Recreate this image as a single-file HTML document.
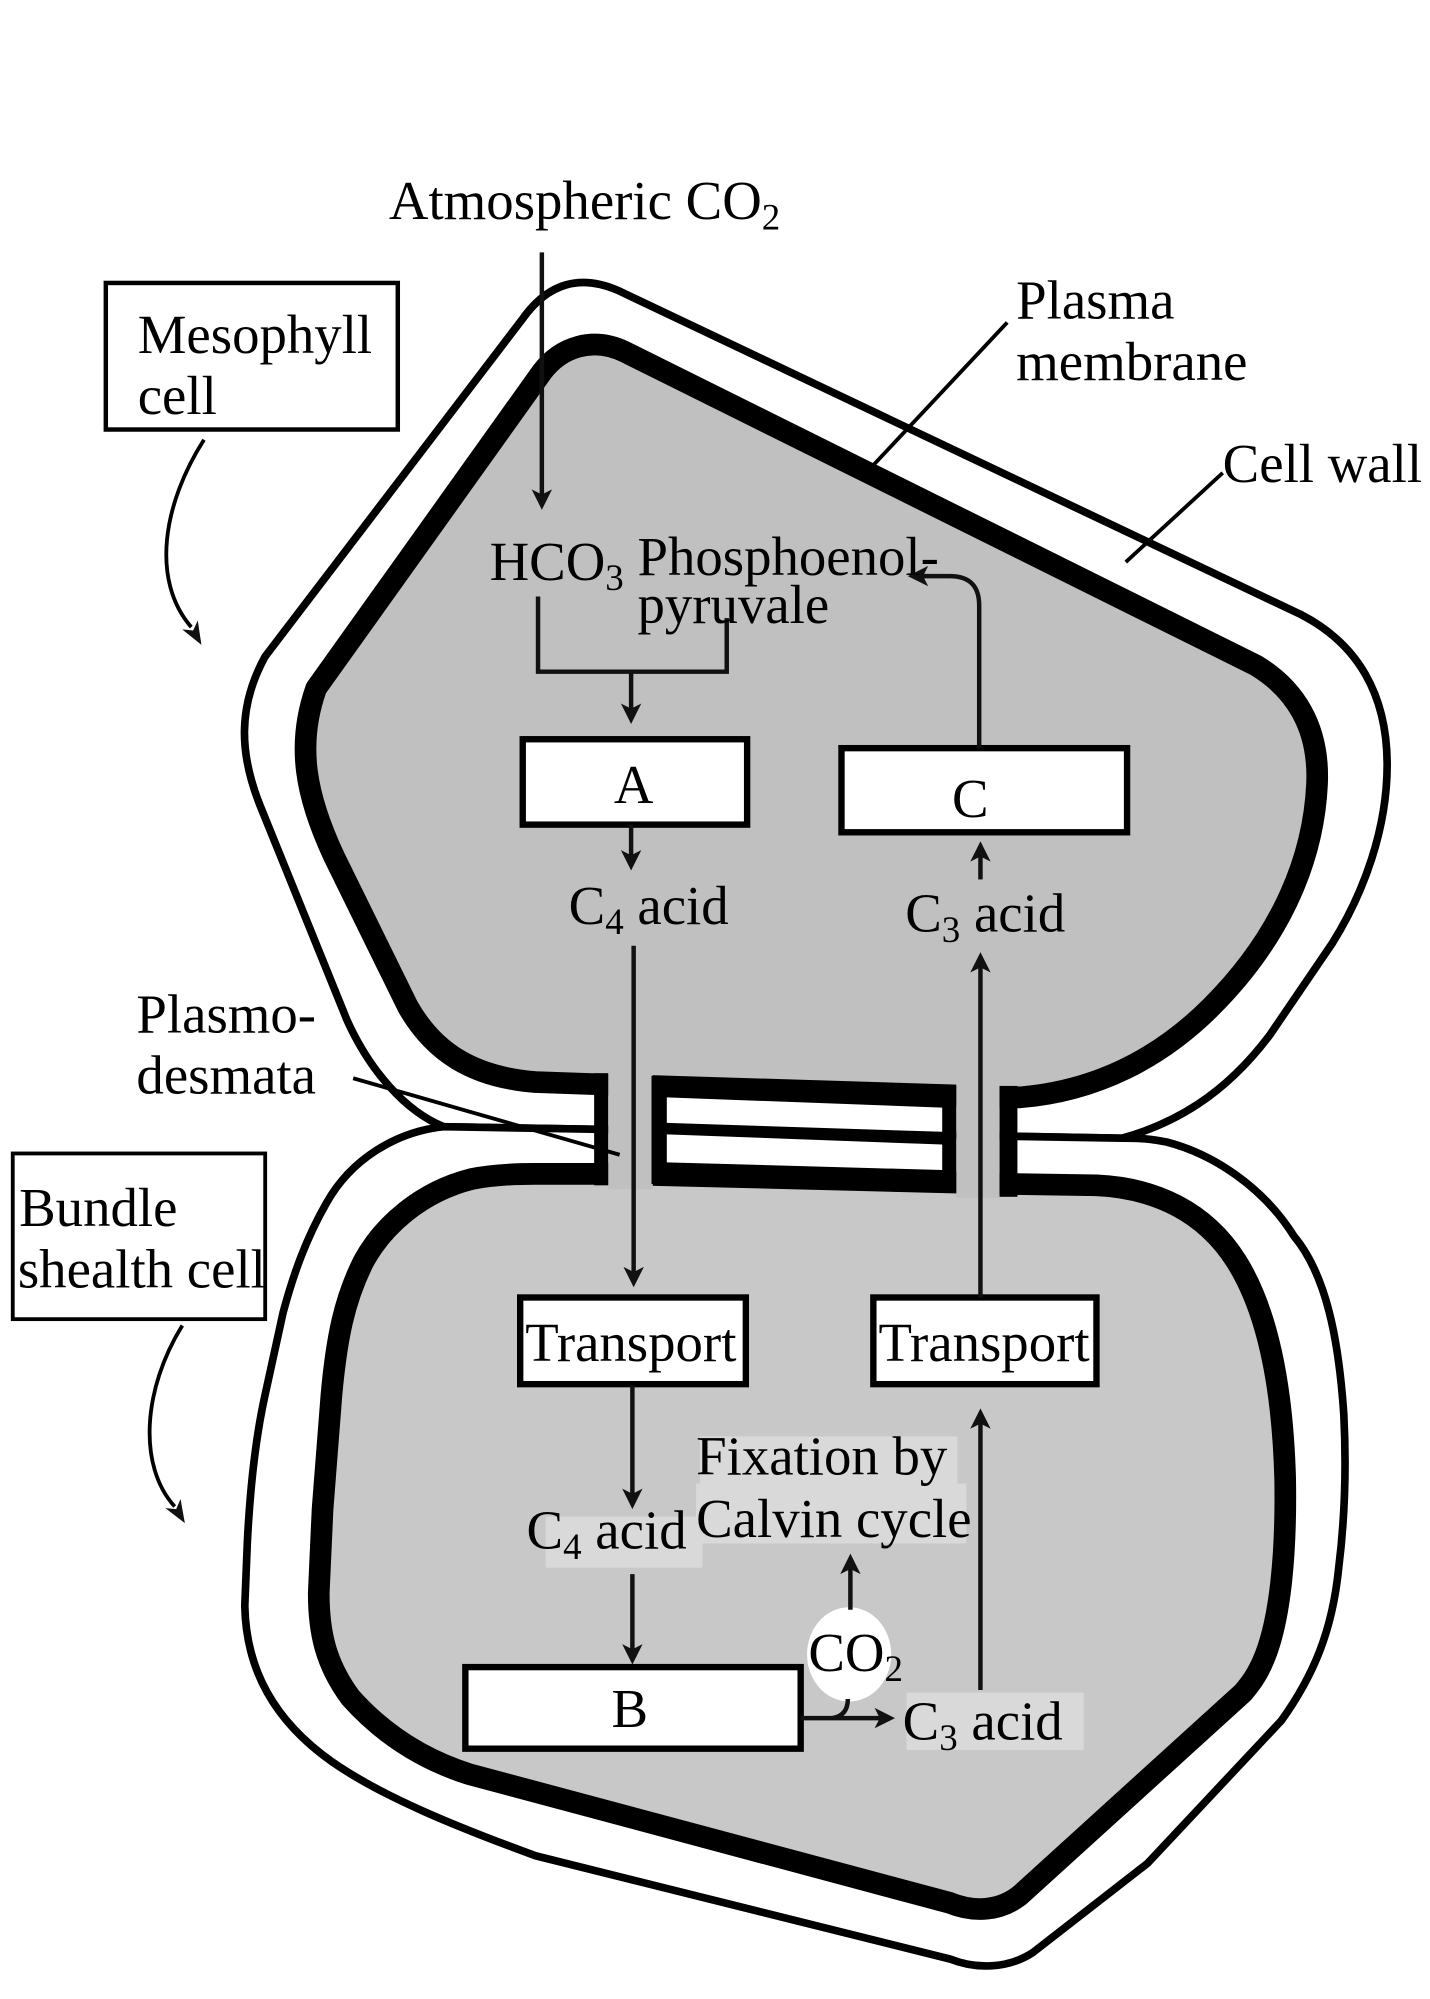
<!DOCTYPE html>
<html><head><meta charset="utf-8"><style>
html,body{margin:0;padding:0;background:#fff;}
svg{display:block;}
text{font-family:"Liberation Serif","Times New Roman",serif;font-size:43px;fill:#000;}
</style></head><body>
<svg width="1430" height="1999" viewBox="0 0 1121.6 1568.4" preserveAspectRatio="none" xmlns="http://www.w3.org/2000/svg">
<rect x="0" y="0" width="1121.6" height="1568.4" fill="#fff"/>

<!-- outer cell walls -->
<path d="M348 884 C318 872,290 840,272 800 L204 632 C188 592,186 555,208 515 L410 250 C430 222,455 215,485 228 L1020 482 C1065 505,1088 545,1088 600 C1088 650,1070 700,1045 740 L996 812 C960 860,920 882,880 893 Z" fill="#fff" stroke="#000" stroke-width="6" stroke-linejoin="round"/>
<path d="M348 884 C310 888,275 910,256 944 C240 972,230 1000,222 1030 L208 1094 C200 1130,196 1170,194 1210 L192 1260 C193 1310,215 1350,260 1382 C300 1410,360 1434,420 1456 L745 1537 C765 1545,790 1545,810 1532 L900 1462 L1005 1350 C1030 1315,1045 1280,1050 1230 C1055 1190,1056 1150,1054 1110 C1050 1050,1040 1000,1015 970 C990 930,950 905,915 896 C900 893,890 893,880 893 Z" fill="#fff" stroke="#000" stroke-width="6" stroke-linejoin="round"/>

<!-- membranes / cytoplasm -->
<path d="M478 851 L420 849 C370 845,340 825,320 790 L262 672 C240 625,232 585,248 540 L425 292 C440 272,465 264,490 276 L985 522 C1015 540,1035 570,1033 615 C1030 680,1000 740,950 790 C910 830,860 856,800 861 Z" fill="#c0c0c0" stroke="#000" stroke-width="17" stroke-linejoin="round"/>
<path d="M478 921 L796 929 L860 930 C905 932,945 950,970 990 C995 1030,1006 1090,1008 1160 C1009 1220,1004 1270,992 1300 C986 1315,980 1322,975 1328 L800 1487 C785 1499,765 1501,745 1493 L368 1392 C330 1380,300 1360,275 1332 C255 1305,250 1280,250 1250 L253 1184 L260 1094 C264 1050,270 1020,285 990 C300 962,330 935,370 925 C390 921,410 921,420 921 Z" fill="#c8c8c8" stroke="#000" stroke-width="17" stroke-linejoin="round"/>

<!-- plasmodesmata -->
<rect x="477" y="838" width="35" height="95" fill="#c0c0c0"/>
<rect x="750" y="846" width="34" height="94" fill="#c0c0c0"/>
<rect x="466" y="842" width="11" height="88" fill="#000"/>
<rect x="784" y="852" width="14" height="87" fill="#000"/>
<polygon points="511,844 750,852 750,936 511,929" fill="#000"/>
<polygon points="523,861 739,869 739,888 523,881" fill="#fff"/>
<polygon points="523,890 739,898 739,918 523,912" fill="#fff"/>

<!-- label backgrounds in lower cell -->
<rect x="428" y="1190" width="123" height="40" fill="#d9d9d9"/>
<rect x="549" y="1127" width="202" height="38" fill="#d9d9d9"/>
<rect x="546" y="1164" width="212" height="47" fill="#d9d9d9"/>
<rect x="711" y="1328" width="139" height="45" fill="#d9d9d9"/>
<ellipse cx="666" cy="1298" rx="33" ry="37" fill="#fff"/>

<!-- boxes -->
<rect x="83" y="222" width="229" height="115" fill="#fff" stroke="#000" stroke-width="3.5"/>
<rect x="10" y="905" width="198" height="130" fill="#fff" stroke="#000" stroke-width="3"/>
<rect x="410" y="580" width="176" height="67" fill="#fff" stroke="#000" stroke-width="5"/>
<rect x="660" y="587" width="224" height="66" fill="#fff" stroke="#000" stroke-width="5"/>
<rect x="408" y="1018" width="177" height="68" fill="#fff" stroke="#000" stroke-width="5"/>
<rect x="685" y="1018" width="175" height="68" fill="#fff" stroke="#000" stroke-width="5"/>
<rect x="365" y="1308" width="263" height="64" fill="#fff" stroke="#000" stroke-width="5"/>

<!-- connectors -->
<g stroke="#111" stroke-width="3.5" fill="none">
<line x1="425" y1="198" x2="425" y2="390"/>
<polyline points="422,468 422,527 570,527 570,485"/>
<line x1="495" y1="527" x2="495" y2="558"/>
<line x1="495" y1="647" x2="495" y2="673"/>
<line x1="497" y1="742" x2="497" y2="1000"/>
<line x1="496" y1="1087" x2="496" y2="1174"/>
<line x1="496" y1="1235" x2="496" y2="1296"/>
<line x1="628" y1="1348" x2="692" y2="1348"/>
<path d="M665 1333 Q665 1346 653 1348"/>
<line x1="667" y1="1263" x2="667" y2="1229"/>
<line x1="769" y1="1326" x2="769" y2="1115"/>
<line x1="769" y1="1018" x2="769" y2="757"/>
<line x1="769" y1="690" x2="769" y2="670"/>
<path d="M768 587 L768 475 Q768 452 745 452 L722 452"/>
</g>
<g stroke="#000" stroke-width="3" fill="none">
<line x1="790" y1="253" x2="684" y2="366"/>
<line x1="959" y1="371" x2="883" y2="441"/>
<line x1="277" y1="846" x2="486" y2="906"/>
<path d="M160 345 C128 395,118 455,150 492"/>
<path d="M143 1040 C112 1090,108 1150,137 1182"/>
</g>

<!-- arrowheads -->
<g fill="#111">
<polygon points="425,400 417,384 425,388 433,384"/>
<polygon points="495,568 487,552 495,556 503,552"/>
<polygon points="495,683 487,667 495,671 503,667"/>
<polygon points="497,1010 489,994 497,998 505,994"/>
<polygon points="496,1184 488,1168 496,1172 504,1168"/>
<polygon points="496,1306 488,1290 496,1294 504,1290"/>
<polygon points="702,1348 686,1340 690,1348 686,1356"/>
<polygon points="667,1219 659,1235 667,1231 675,1235"/>
<polygon points="769,1105 761,1121 769,1117 777,1121"/>
<polygon points="769,747 761,763 769,759 777,763"/>
<polygon points="769,660 761,676 769,672 777,676"/>
<polygon points="712,452 728,444 724,452 728,460"/>
<polygon points="158,506 142.9,493.8 151.5,494.7 155.1,486.8"/>
<polygon points="145,1195 129.7,1183.3 138.2,1184 141.6,1176.1"/>
</g>

<!-- text -->
<text x="305" y="172">Atmospheric CO<tspan font-size="29" dy="8">2</tspan></text>
<text x="108" y="277">Mesophyll</text>
<text x="108" y="325">cell</text>
<text x="797" y="250">Plasma</text>
<text x="797" y="298">membrane</text>
<text x="959" y="378">Cell wall</text>
<text x="384" y="455">HCO<tspan font-size="29" dy="8">3</tspan></text>
<text x="500" y="451">Phosphoenol-</text>
<text x="500" y="489">pyruvale</text>
<text x="497" y="630" text-anchor="middle">A</text>
<text x="761" y="641" text-anchor="middle">C</text>
<text x="446" y="725">C<tspan font-size="29" dy="8">4</tspan><tspan dy="-8"> acid</tspan></text>
<text x="710" y="731">C<tspan font-size="29" dy="8">3</tspan><tspan dy="-8"> acid</tspan></text>
<text x="107" y="810">Plasmo-</text>
<text x="107" y="858">desmata</text>
<text x="15" y="962">Bundle</text>
<text x="14" y="1010">shealth cell</text>
<text x="412" y="1068">Transport</text>
<text x="689" y="1068">Transport</text>
<text x="546" y="1157">Fixation by</text>
<text x="546" y="1206">Calvin cycle</text>
<text x="413" y="1215">C<tspan font-size="29" dy="8">4</tspan><tspan dy="-8"> acid</tspan></text>
<text x="634" y="1311">CO<tspan font-size="29" dy="8">2</tspan></text>
<text x="494" y="1355" text-anchor="middle">B</text>
<text x="708" y="1365">C<tspan font-size="29" dy="8">3</tspan><tspan dy="-8"> acid</tspan></text>
</svg>
</body></html>
